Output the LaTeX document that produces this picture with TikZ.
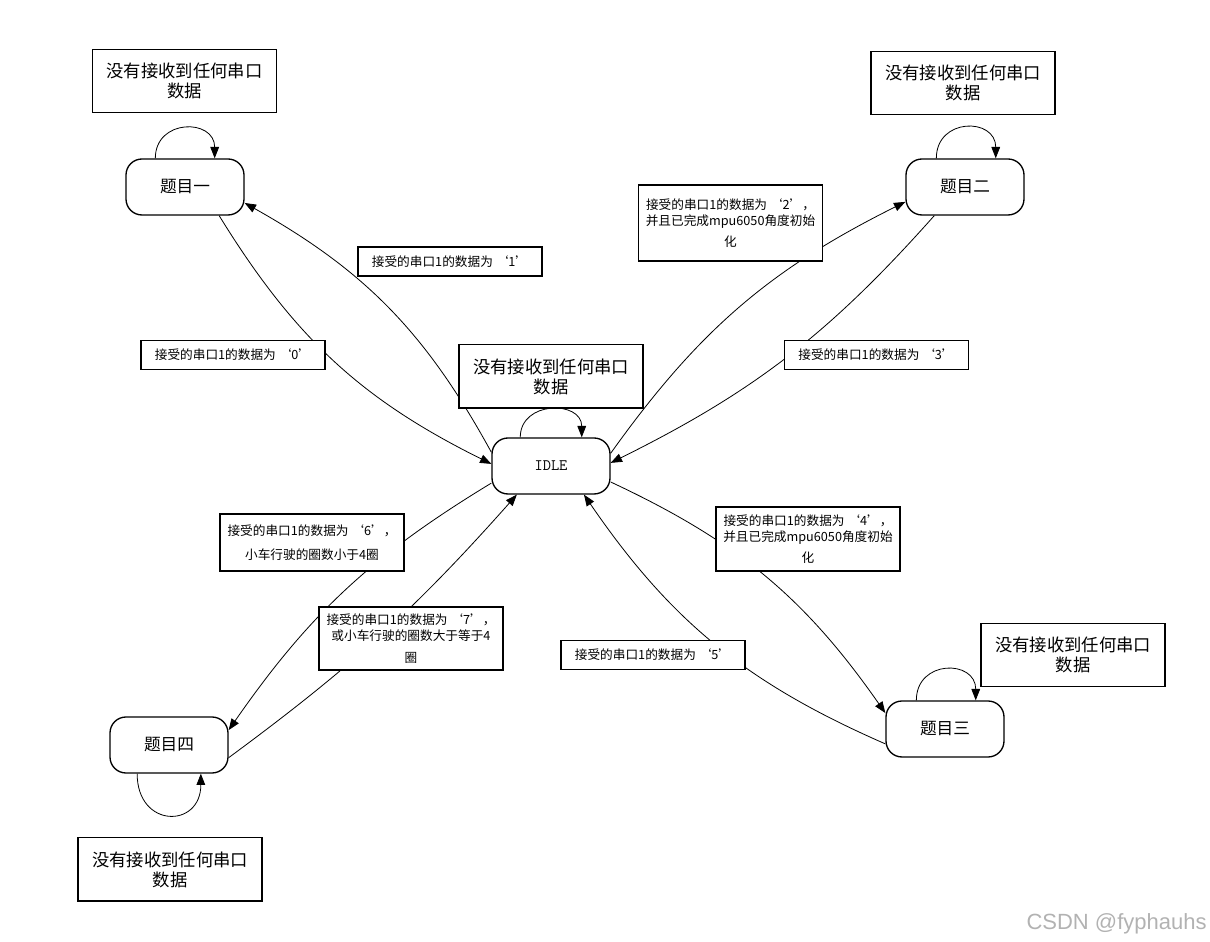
\documentclass[tikz,border=0pt]{standalone}
\usepackage{fontspec}
\setmainfont{Noto Sans CJK SC}
\newfontfamily\wmfont{Liberation Sans}
\usetikzlibrary{arrows.meta,calc}

\tikzset{
  >={Triangle[length=8.5pt,width=6.5pt]},
  stbox/.style={draw, line width=1pt, rounded corners=12pt, fill=white,
    minimum width=88.5pt, minimum height=42pt, inner sep=0pt,
    font=\fontsize{12.5}{15}\selectfont},
  cond/.style={draw, line width=1pt, fill=white, align=center,
    minimum width=138pt, inner sep=1pt, font=\fontsize{9.5}{12}\selectfont},
  note/.style={draw, line width=1pt, fill=white, align=center,
    minimum width=138pt, minimum height=47.5pt, inner sep=1pt,
    font=\fontsize{13}{15}\selectfont}
}

\begin{document}
\begin{tikzpicture}[x=0.75pt,y=0.75pt,line width=0.6pt]
\useasboundingbox (0,0) rectangle (1210,942);

% states
\node[stbox] (idle) at (551,476) {\ttfamily\fontsize{12}{14}\selectfont IDLE};
\node[stbox] (t1) at (185,755) {题目一};
\node[stbox] (t2) at (965,755) {题目二};
\node[stbox] (t3) at (945,213) {题目三};
\node[stbox] (t4) at (169,197) {题目四};

% transitions
\draw[->] (idle.167) to[bend right=16] (t1.-15);
\draw[->] (t1.-40) to[bend right=16] (idle.178);
\draw[->] (idle.12) to[bend left=14] (t2.194);
\draw[->] (t2.223) to[bend left=11] (idle.3);
\draw[->] (idle.-15) to[bend left=15] (t3.165);
\draw[->] (t3.194) to[bend left=16] (idle.-41);
\draw[->] (idle.196) to[bend right=12] (t4.14);
\draw[->] (t4.-12) to[bend right=6] (idle.220);

% self loops
\draw[->] (idle.137) .. controls +(90:37) and +(90:37) .. (idle.43);
\draw[->] (t1.136) .. controls +(90:40) and +(90:40) .. (t1.44);
\draw[->] (t2.135) .. controls +(90:41) and +(90:41) .. (t2.43);
\draw[->] (t3.135) .. controls +(90:41) and +(90:41) .. (t3.43);
\draw[->] (t4.-138) .. controls +(-90:55) and +(-90:55) .. (t4.-42);

% conditions
\node[cond, minimum height=21.75pt] (k1) at (450,680.5) {接受的串口1的数据为 ‘1’};
\node[cond, minimum height=21.75pt] (k0) at (233,587) {接受的串口1的数据为 ‘0’};
\node[cond, minimum height=57pt] (k2) at (730.5,719)
  {接受的串口1的数据为 ‘2’，\\ 并且已完成mpu6050角度初始\\[4pt] 化};
\node[cond, minimum height=21.75pt] (k3) at (876.5,587) {接受的串口1的数据为 ‘3’};
\node[cond, minimum height=48pt] (k4) at (808,403)
  {接受的串口1的数据为 ‘4’，\\ 并且已完成mpu6050角度初始\\[4pt] 化};
\node[cond, minimum height=21.75pt] (k5) at (653,287) {接受的串口1的数据为 ‘5’};
\node[cond, minimum height=42.75pt] (k6) at (312,399.5)
  {接受的串口1的数据为 ‘6’，\\[6pt] 小车行驶的圈数小于4圈};
\node[cond, minimum height=47.25pt] (k7) at (411,303.5)
  {接受的串口1的数据为 ‘7’，\\ 或小车行驶的圈数大于等于4\\[4pt] 圈};

% notes
\node[note] (n0) at (551,565.5) {没有接收到任何串口\\数据};
\node[note] (n1) at (184.5,861) {没有接收到任何串口\\数据};
\node[note] (n2) at (963,859) {没有接收到任何串口\\数据};
\node[note] (n3) at (1073,287) {没有接收到任何串口\\数据};
\node[note] (n4) at (170,72.5) {没有接收到任何串口\\数据};

\node[anchor=east, inner sep=0pt, text=gray!60, font=\wmfont\fontsize{16.5}{19}\selectfont] (wm) at (1207,18) {CSDN @fyphauhs};
\end{tikzpicture}
\end{document}
